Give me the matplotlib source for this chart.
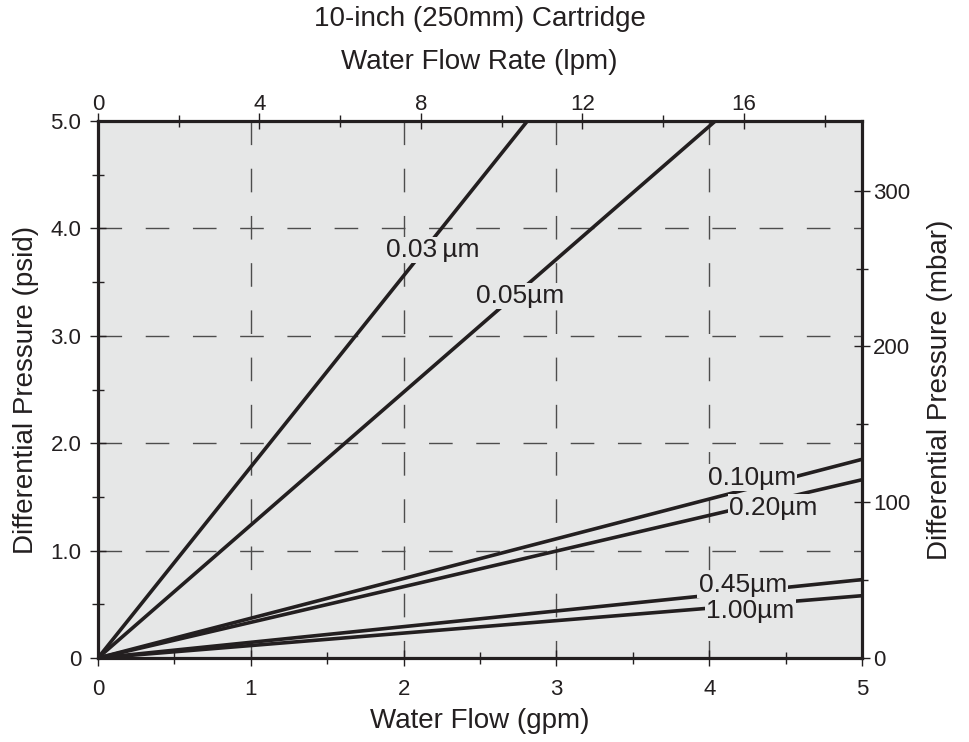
import matplotlib
matplotlib.use("Agg")
import matplotlib.pyplot as plt
from matplotlib.ticker import MultipleLocator

plt.rcParams['font.family'] = ['Liberation Sans Narrow', 'Liberation Sans', 'DejaVu Sans']

# values (gpm, psid)
flow_003 = [0, 2.81]
dp_003 = [0, 5.0]
flow_005 = [0, 4.04]
dp_005 = [0, 5.0]
flow_010 = [0, 5.0]
dp_010 = [0, 1.85]
flow_020 = [0, 5.0]
dp_020 = [0, 1.66]
flow_045 = [0, 5.0]
dp_045 = [0, 0.73]
flow_100 = [0, 5.0]
dp_100 = [0, 0.58]

labels = ["0.03\u2009\u00b5m", "0.05\u00b5m", "0.10\u00b5m", "0.20\u00b5m", "0.45\u00b5m", "1.00\u00b5m"]
label_x = [2.19, 2.76, 4.28, 4.42, 4.22, 4.27]
label_y = [3.80, 3.37, 1.68, 1.40, 0.68, 0.44]

grid_vals = [1, 2, 3, 4]

gpm_to_lpm = 3.785
psi_to_mbar = 68.95

bg = '#e6e7e7'
ink = '#231f20'

fig = plt.figure(figsize=(9.69, 7.42), dpi=100)
ax = fig.add_axes([0.1011, 0.1132, 0.7885, 0.7237])
ax.set_facecolor(bg)

ax.set_xlim(0, 5)
ax.set_ylim(0, 5)

# dashed grid, vertical ones start at the top like the original
for g in grid_vals:
    ax.plot([g, g], [5, 0], color='#4d4d4d', lw=1.0, linestyle=(0, (17, 17)), zorder=1)
    ax.plot([0, 5], [g, g], color='#4d4d4d', lw=1.0, linestyle=(0, (17, 17)), zorder=1)

series = [(flow_003, dp_003), (flow_005, dp_005), (flow_010, dp_010),
          (flow_020, dp_020), (flow_045, dp_045), (flow_100, dp_100)]
for fx, fy in series:
    ax.plot(fx, fy, color=ink, lw=2.6, solid_capstyle='butt', zorder=3)

for t, x, y in zip(labels, label_x, label_y):
    ax.text(x, y, t, ha='center', va='center', fontsize=19, color=ink, zorder=4,
            bbox=dict(facecolor=bg, edgecolor='none', pad=1.0))

for s in ax.spines.values():
    s.set_linewidth(2.3)
    s.set_color(ink)
    s.set_zorder(5)

ax.xaxis.set_major_locator(MultipleLocator(1))
ax.xaxis.set_minor_locator(MultipleLocator(0.5))
ax.yaxis.set_minor_locator(MultipleLocator(0.5))
ax.set_yticks([0, 1, 2, 3, 4, 5])
ax.set_yticklabels(["0", "1.0", "2.0", "3.0", "4.0", "5.0"])
ax.tick_params(axis='x', which='major', direction='inout', length=12, width=1.0, color=ink,
               labelsize=16, labelcolor=ink, pad=9)
ax.tick_params(axis='y', which='major', direction='inout', length=12, width=1.0, color=ink,
               labelsize=16, labelcolor=ink, pad=6)
ax.tick_params(which='minor', direction='inout', length=8, width=1.0, color=ink)

ax.set_xlabel("Water Flow (gpm)", fontsize=20, color=ink, labelpad=6)
ax.set_ylabel("Differential Pressure (psid)", fontsize=20, color=ink, labelpad=8)

top = ax.secondary_xaxis('top', functions=(lambda x: x * gpm_to_lpm, lambda x: x / gpm_to_lpm))
top.set_xticks([0, 4, 8, 12, 16])
top.xaxis.set_minor_locator(MultipleLocator(2))
top.tick_params(which='major', direction='inout', length=12, width=1.0, color=ink,
                labelsize=16, labelcolor=ink, pad=-2)
top.tick_params(which='minor', direction='inout', length=8, width=1.0, color=ink)
top.spines['top'].set_visible(False)

right = ax.secondary_yaxis('right', functions=(lambda y: y * psi_to_mbar, lambda y: y / psi_to_mbar))
right.set_yticks([0, 100, 200, 300])
right.yaxis.set_minor_locator(MultipleLocator(50))
right.tick_params(which='major', direction='inout', length=12, width=1.0, color=ink,
                  labelsize=16, labelcolor=ink, pad=2)
right.tick_params(which='minor', direction='inout', length=8, width=1.0, color=ink)
right.spines['right'].set_visible(False)
right.set_ylabel("Differential Pressure (mbar)", fontsize=20, color=ink, labelpad=12)

fig.text(0.495, 0.975, "10-inch (250mm) Cartridge", ha='center', va='center', fontsize=20, color=ink)
fig.text(0.495, 0.916, "Water Flow Rate (lpm)", ha='center', va='center', fontsize=20, color=ink)

fig.savefig("out.png", dpi=100, facecolor='white')
